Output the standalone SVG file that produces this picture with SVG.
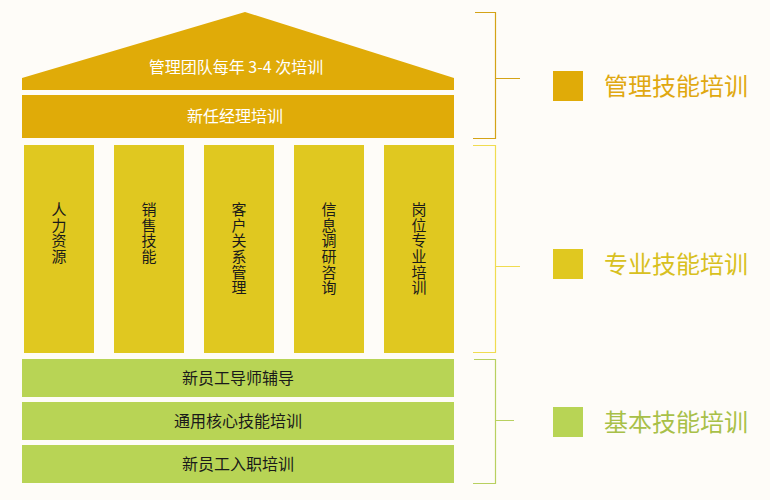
<svg xmlns="http://www.w3.org/2000/svg" width="770" height="500" viewBox="0 0 770 500">
<style>
.t{font-family:"Noto Sans CJK SC","Liberation Sans",sans-serif;font-size:16px;text-anchor:middle}
.w{fill:#ffffff}
.k{fill:#1a1a1a}
.gold{fill:#e0ab08}
.pil{fill:#e0c820}
.grn{fill:#b8d455}
.lg{font-family:"Noto Sans CJK SC","Liberation Sans",sans-serif;font-size:24px}
.br{fill:none;stroke-width:1.2}
.vt{writing-mode:vertical-rl;text-orientation:upright;letter-spacing:0.6px;font-size:15px;text-anchor:start}
</style>
<rect width="770" height="500" fill="#fefcf8"/>
<g id="roof">
<polygon class="gold" points="22,78 245,12 454,78 454,90 22,90"/>
<text class="t w" x="236" y="73">管理团队每年 3-4 次培训</text>
</g>
<g id="new-manager">
<rect class="gold" x="22" y="95" width="432" height="43"/>
<text class="t w" x="235" y="122">新任经理培训</text>
</g>
<g id="pillar-hr">
<rect class="pil" x="24" y="145" width="70" height="208"/>
<text class="t k vt" x="59" y="202">人力资源</text>
</g>
<g id="pillar-sales">
<rect class="pil" x="114" y="145" width="70" height="208"/>
<text class="t k vt" x="149" y="202">销售技能</text>
</g>
<g id="pillar-crm">
<rect class="pil" x="204" y="145" width="70" height="208"/>
<text class="t k vt" x="239" y="202">客户关系管理</text>
</g>
<g id="pillar-info">
<rect class="pil" x="294" y="145" width="70" height="208"/>
<text class="t k vt" x="329" y="202">信息调研咨询</text>
</g>
<g id="pillar-post">
<rect class="pil" x="384" y="145" width="70" height="208"/>
<text class="t k vt" x="419" y="202">岗位专业培训</text>
</g>
<g id="mentor">
<rect class="grn" x="22" y="359" width="432" height="38"/>
<text class="t k" x="238" y="384">新员工导师辅导</text>
</g>
<g id="core-skills">
<rect class="grn" x="22" y="402" width="432" height="38"/>
<text class="t k" x="238" y="427">通用核心技能培训</text>
</g>
<g id="onboarding">
<rect class="grn" x="22" y="445" width="432" height="38"/>
<text class="t k" x="238" y="470">新员工入职培训</text>
</g>
<g id="connectors">
<path class="br" stroke="#d4a317" d="M475,12.5 H495.5 V138.5 H473 M495.5,78.5 H520"/>
<path class="br" stroke="#f0dc50" d="M473,145.5 H495.5 V352.5 H473 M495.5,266.5 H520"/>
<path class="br" stroke="#b8d060" d="M474,359.5 H495.5 V483.5 H473 M495.5,420.5 H514"/>
</g>
<g id="legend-mgmt">
<rect x="553" y="71" width="30" height="30" fill="#e0ab08"/>
<text class="lg" x="604" y="95" fill="#e0a810">管理技能培训</text>
</g>
<g id="legend-pro">
<rect x="553" y="249" width="30" height="30" fill="#e0c820"/>
<text class="lg" x="604" y="273" fill="#d8c020">专业技能培训</text>
</g>
<g id="legend-basic">
<rect x="553" y="407" width="30" height="30" fill="#b8d455"/>
<text class="lg" x="604" y="431" fill="#a8c048">基本技能培训</text>
</g>
</svg>
